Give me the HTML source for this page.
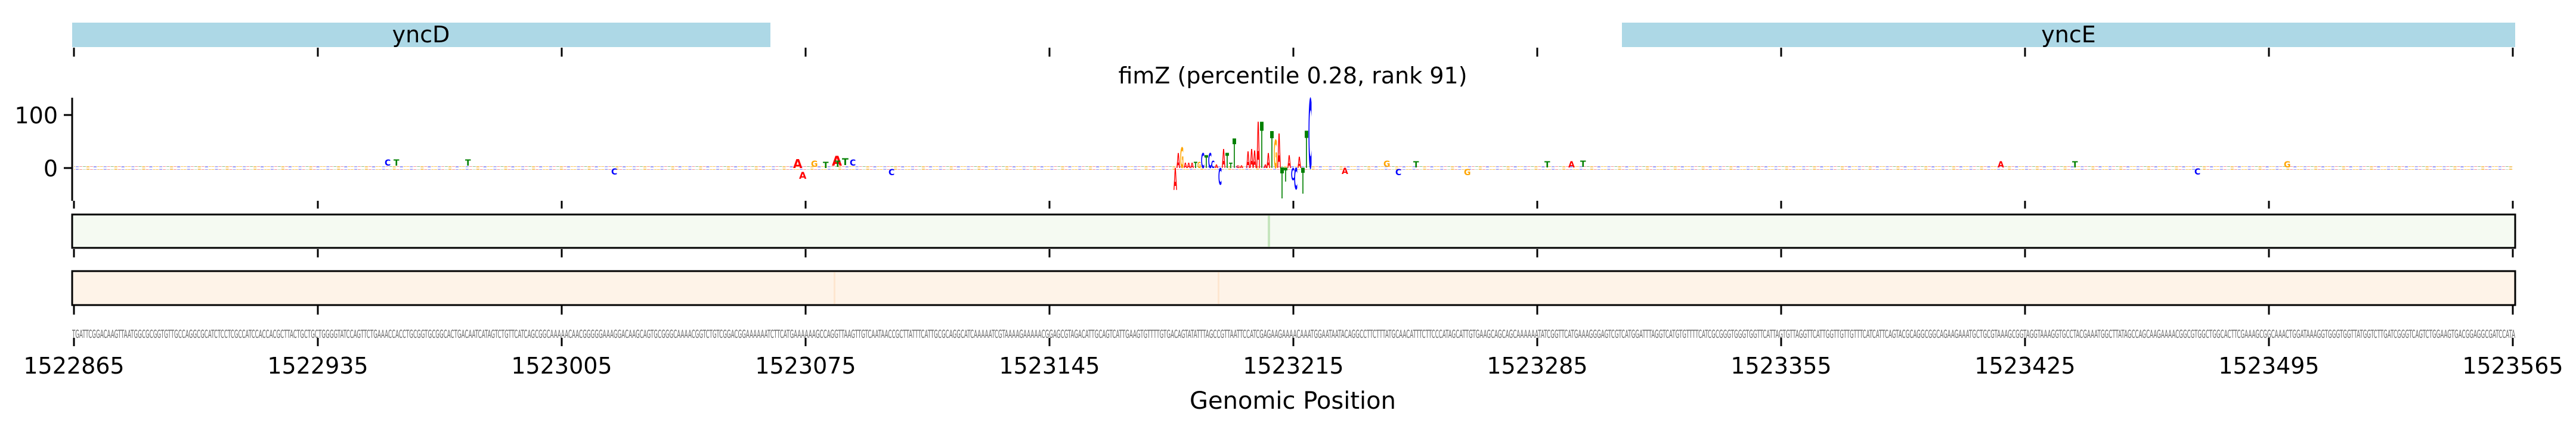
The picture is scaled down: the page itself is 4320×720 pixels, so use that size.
<!DOCTYPE html>
<html><head><meta charset="utf-8"><style>
html,body{margin:0;padding:0;background:#fff;}
svg{display:block;}
text{font-family:"DejaVu Sans","Liberation Sans",sans-serif;}
</style></head><body>
<svg width="4320" height="720" viewBox="0 0 4320 720" xmlns="http://www.w3.org/2000/svg">
<defs>
<pattern id="noise" x="121" y="0" width="46.7" height="6" patternUnits="userSpaceOnUse">
<rect x="0" y="2" width="5" height="2" fill="#f4b840"/>
<rect x="6" y="1.5" width="5" height="3" fill="#8080f0"/>
<rect x="12" y="2" width="5" height="2" fill="#f08080"/>
<rect x="18" y="2.5" width="5" height="1.5" fill="#70b070"/>
<rect x="24" y="1" width="5" height="4" fill="#f4b840"/>
<rect x="30" y="2" width="5" height="2" fill="#f08080"/>
<rect x="36" y="2" width="5" height="3" fill="#8080f0"/>
<rect x="42" y="2" width="4" height="2" fill="#f4b840"/>
</pattern>
</defs>
<rect x="121" y="38" width="1171" height="41" fill="#add8e6"/>
<text x="706" y="71" font-size="38" text-anchor="middle">yncD</text>
<rect x="2720" y="38" width="1498" height="41" fill="#add8e6"/>
<text x="3469" y="71" font-size="38" text-anchor="middle">yncE</text>
<g stroke="#000" stroke-width="3">
<path d="M124 80v15M533 80v15M942 80v15M1351 80v15M1760 80v15M2169 80v15M2578 80v15M2987 80v15M3396 80v15M3805 80v15M4214 80v15"/>
<path d="M124 337v13M533 337v13M942 337v13M1351 337v13M1760 337v13M2169 337v13M2578 337v13M2987 337v13M3396 337v13M3805 337v13M4214 337v13"/>
<path d="M124 418v14M533 418v14M942 418v14M1351 418v14M1760 418v14M2169 418v14M2578 418v14M2987 418v14M3396 418v14M3805 418v14M4214 418v14"/>
<path d="M124 513v15M533 513v15M942 513v15M1351 513v15M1760 513v15M2169 513v15M2578 513v15M2987 513v15M3396 513v15M3805 513v15M4214 513v15"/>
<path d="M124 567v14M533 567v14M942 567v14M1351 567v14M1760 567v14M2169 567v14M2578 567v14M2987 567v14M3396 567v14M3805 567v14M4214 567v14"/>
</g>
<text x="2168" y="140" font-size="38" text-anchor="middle">fimZ (percentile 0.28, rank 91)</text>
<path d="M121 164V337M107 193H121M107 282H121" stroke="#000" stroke-width="3" fill="none"/>
<text x="97" y="207" font-size="38" text-anchor="end">100</text>
<text x="97" y="296" font-size="38" text-anchor="end">0</text>
<rect x="124" y="279" width="4090" height="6" fill="url(#noise)" opacity="0.8"/>
<g font-size="14" font-weight="bold">
<text x="1330" y="282" fill="red" font-size="20">A</text>
<text x="1340" y="300" fill="red" font-size="16">A</text>
<text x="1360" y="280" fill="orange">G</text>
<text x="1380" y="282" fill="green">T</text>
<text x="1395" y="278" fill="red" font-size="22">A</text>
<text x="1400" y="280" fill="green">T</text>
<text x="1412" y="277" fill="green" font-size="16">T</text>
<text x="1425" y="278" fill="blue">C</text>
<text x="1490" y="294" fill="blue">C</text>
<text x="2250" y="292" fill="red">A</text>
<text x="2320" y="280" fill="orange">G</text>
<text x="2340" y="294" fill="blue">C</text>
<text x="2370" y="281" fill="green">T</text>
<text x="2455" y="294" fill="orange">G</text>
<text x="2590" y="281" fill="green">T</text>
<text x="2630" y="281" fill="red">A</text>
<text x="2650" y="280" fill="green">T</text>
<text x="1025" y="293" fill="blue">C</text>
<text x="780" y="278" fill="green">T</text>
<text x="660" y="278" fill="green">T</text>
<text x="645" y="278" fill="blue">C</text>
<text x="3350" y="281" fill="red">A</text>
<text x="3475" y="281" fill="green">T</text>
<text x="3680" y="293" fill="blue">C</text>
<text x="3830" y="281" fill="orange">G</text>
</g>
<g font-family="Liberation Sans, sans-serif" font-weight="bold">
<text x="1968" y="319" font-size="51" textLength="6" lengthAdjust="spacingAndGlyphs" fill="red">A</text>
<text x="1973" y="282" font-size="35" textLength="6" lengthAdjust="spacingAndGlyphs" fill="red">A</text>
<text x="1979" y="282" font-size="47" textLength="6" lengthAdjust="spacingAndGlyphs" fill="orange">G</text>
<text x="1985" y="282" font-size="12" textLength="17" lengthAdjust="spacingAndGlyphs" fill="red">AAA</text>
<text x="2002" y="282" font-size="14" textLength="6" lengthAdjust="spacingAndGlyphs" fill="green">T</text>
<text x="2008" y="282" font-size="14" textLength="6" lengthAdjust="spacingAndGlyphs" fill="orange">G</text>
<text x="2014" y="282" font-size="35" textLength="6" lengthAdjust="spacingAndGlyphs" fill="blue">C</text>
<text x="2020" y="282" font-size="29" textLength="6" lengthAdjust="spacingAndGlyphs" fill="green">T</text>
<text x="2026" y="282" font-size="35" textLength="6" lengthAdjust="spacingAndGlyphs" fill="blue">C</text>
<text x="2031" y="282" font-size="17" textLength="6" lengthAdjust="spacingAndGlyphs" fill="blue">C</text>
<text x="2037" y="282" font-size="8" textLength="6" lengthAdjust="spacingAndGlyphs" fill="red">A</text>
<text x="2043" y="310" font-size="38" textLength="6" lengthAdjust="spacingAndGlyphs" fill="blue">C</text>
<text x="2049" y="282" font-size="44" textLength="6" lengthAdjust="spacingAndGlyphs" fill="red">A</text>
<text x="2055" y="282" font-size="35" textLength="6" lengthAdjust="spacingAndGlyphs" fill="green">T</text>
<text x="2061" y="282" font-size="12" textLength="6" lengthAdjust="spacingAndGlyphs" fill="green">T</text>
<text x="2067" y="282" font-size="68" textLength="6" lengthAdjust="spacingAndGlyphs" fill="green">T</text>
<text x="2073" y="282" font-size="6" textLength="12" lengthAdjust="spacingAndGlyphs" fill="red">GA</text>
<text x="2090" y="282" font-size="38" textLength="6" lengthAdjust="spacingAndGlyphs" fill="red">A</text>
<text x="2096" y="282" font-size="44" textLength="6" lengthAdjust="spacingAndGlyphs" fill="red">A</text>
<text x="2101" y="282" font-size="40" textLength="6" lengthAdjust="spacingAndGlyphs" fill="red">A</text>
<text x="2107" y="282" font-size="107" textLength="6" lengthAdjust="spacingAndGlyphs" fill="red">A</text>
<text x="2113" y="282" font-size="106" textLength="6" lengthAdjust="spacingAndGlyphs" fill="green">T</text>
<text x="2119" y="282" font-size="8" textLength="6" lengthAdjust="spacingAndGlyphs" fill="red">A</text>
<text x="2124" y="282" font-size="35" textLength="6" lengthAdjust="spacingAndGlyphs" fill="red">A</text>
<text x="2130" y="282" font-size="85" textLength="6" lengthAdjust="spacingAndGlyphs" fill="green">T</text>
<text x="2136" y="282" font-size="65" textLength="6" lengthAdjust="spacingAndGlyphs" fill="orange">G</text>
<text x="2142" y="282" font-size="79" textLength="6" lengthAdjust="spacingAndGlyphs" fill="red">A</text>
<text x="2147" y="333" font-size="71" textLength="6" lengthAdjust="spacingAndGlyphs" fill="green">T</text>
<text x="2153" y="305" font-size="32" textLength="6" lengthAdjust="spacingAndGlyphs" fill="green">T</text>
<text x="2159" y="282" font-size="29" textLength="6" lengthAdjust="spacingAndGlyphs" fill="red">A</text>
<text x="2165" y="302" font-size="28" textLength="6" lengthAdjust="spacingAndGlyphs" fill="blue">C</text>
<text x="2170" y="318" font-size="50" textLength="6" lengthAdjust="spacingAndGlyphs" fill="blue">C</text>
<text x="2176" y="282" font-size="26" textLength="6" lengthAdjust="spacingAndGlyphs" fill="red">A</text>
<text x="2182" y="325" font-size="60" textLength="6" lengthAdjust="spacingAndGlyphs" fill="green">T</text>
<text x="2188" y="282" font-size="86" textLength="6" lengthAdjust="spacingAndGlyphs" fill="green">T</text>
<text x="2194" y="282" font-size="160" textLength="6" lengthAdjust="spacingAndGlyphs" fill="blue">C</text>
</g>
<rect x="121" y="360" width="4097" height="56" fill="#f5faf2" stroke="#000" stroke-width="3"/>
<rect x="2126" y="362" width="4" height="52" fill="#c5e5bd"/>
<rect x="121" y="455" width="4097" height="57" fill="#fef3e8" stroke="#000" stroke-width="3"/>
<rect x="1398" y="457" width="3" height="53" fill="#fde6d0"/>
<rect x="2042" y="457" width="3" height="53" fill="#fde6d0"/>
<text x="121" y="567" font-family="Liberation Sans, sans-serif" font-size="19" fill="#666" textLength="4097" lengthAdjust="spacingAndGlyphs">TGATTCGGACAAGTTAATGGCGCGGTGTTGCCAGGCGCATCTCCTCGCCATCCACCACGCTTACTGCTGCTGGGGTATCCAGTTCTGAAACCACCTGCGGTGCGGCACTGACAATCATAGTCTGTTCATCAGCGGCAAAAACAACGGGGGAAAGGACAAGCAGTGCGGGCAAAACGGTCTGTCGGACGGAAAAAATCTTCATGAAAAAAGCCAGGTTAAGTTGTCAATAACCGCTTATTTCATTGCGCAGGCATCAAAAATCGTAAAAGAAAAACGGAGCGTAGACATTGCAGTCATTGAAGTGTTTTGTGACAGTATATTTAGCCGTTAATTCCATCGAGAAGAAAACAAATGGAATAATACAGGCCTTCTTTATGCAACATTTCTTCCCATAGCATTGTGAAGCAGCAGCAAAAAATATCGGTTCATGAAAGGGAGTCGTCATGGATTTAGGTCATGTGTTTTCATCGCGGGTGGGTGGTTCATTAGTGTTAGGTTCATTGGTTGTTGTTTCATCATTCAGTACGCAGGCGGCAGAAGAAATGCTGCGTAAAGCGGTAGGTAAAGGTGCCTACGAAATGGCTTATAGCCAGCAAGAAAACGGCGTGGCTGGCACTTCGAAAGCGGCAAACTGGATAAAGGTGGGTGGTTATGGTCTTGATCGGGTCAGTCTGGAAGTGACGGAGGCGATCCATA</text>
<g font-size="38" text-anchor="middle">
<text x="124" y="627">1522865</text>
<text x="533" y="627">1522935</text>
<text x="942" y="627">1523005</text>
<text x="1351" y="627">1523075</text>
<text x="1760" y="627">1523145</text>
<text x="2169" y="627">1523215</text>
<text x="2578" y="627">1523285</text>
<text x="2987" y="627">1523355</text>
<text x="3396" y="627">1523425</text>
<text x="3805" y="627">1523495</text>
<text x="4214" y="627">1523565</text>
</g>
<text x="2168" y="686" font-size="40" text-anchor="middle">Genomic Position</text>
</svg>
</body></html>
